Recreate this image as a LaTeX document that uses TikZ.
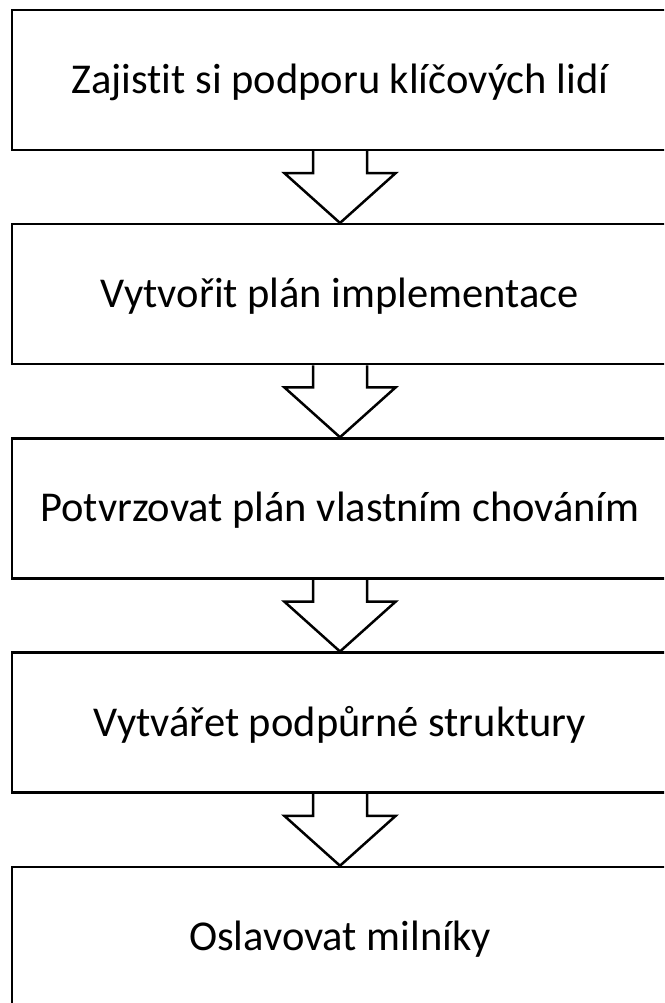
\documentclass[tikz,border=0pt]{standalone}
\usepackage{fontspec}
\setmainfont{Carlito}[RawFeature=-liga]
\usetikzlibrary{calc}
\tikzset{
  stepbox/.style={draw,line width=2.5pt,minimum width=656pt,minimum height=140pt,
    inner sep=0pt,text height=27pt,text depth=0pt,font=\fontsize{42.5}{50}\selectfont},
  blockarrow/.style={line width=2.5pt,line join=miter}
}

\begin{document}
\begin{tikzpicture}[x=1pt,y=1pt]
\useasboundingbox (0,0) rectangle (664,1003);
\clip (0,0) rectangle (664,1003);
\node (b1) at (340,923) [stepbox] {Zajistit si podporu klíčových lidí};
\node (b2) at (340,708.75) [stepbox] {Vytvořit plán implementace};
\node (b3) at (340,494.5) [stepbox] {Potvrzovat plán vlastním chováním};
\node (b4) at (340,280.25) [stepbox] {Vytvářet podpůrné struktury};
\node (b5) at (340,66) [stepbox] {Oslavovat milníky};
% block arrows between the steps
\draw[blockarrow] ($(b1.south)+(-27,0)$) -- ++(0,-22) -- ++(-28.5,0) -- (b2.north)
  -- ($(b1.south)+(55.5,-22)$) -- ++(-28.5,0) -- ++(0,22);
\draw[blockarrow] ($(b2.south)+(-27,0)$) -- ++(0,-22) -- ++(-28.5,0) -- (b3.north)
  -- ($(b2.south)+(55.5,-22)$) -- ++(-28.5,0) -- ++(0,22);
\draw[blockarrow] ($(b3.south)+(-27,0)$) -- ++(0,-22) -- ++(-28.5,0) -- (b4.north)
  -- ($(b3.south)+(55.5,-22)$) -- ++(-28.5,0) -- ++(0,22);
\draw[blockarrow] ($(b4.south)+(-27,0)$) -- ++(0,-22) -- ++(-28.5,0) -- (b5.north)
  -- ($(b4.south)+(55.5,-22)$) -- ++(-28.5,0) -- ++(0,22);
\end{tikzpicture}
\end{document}
